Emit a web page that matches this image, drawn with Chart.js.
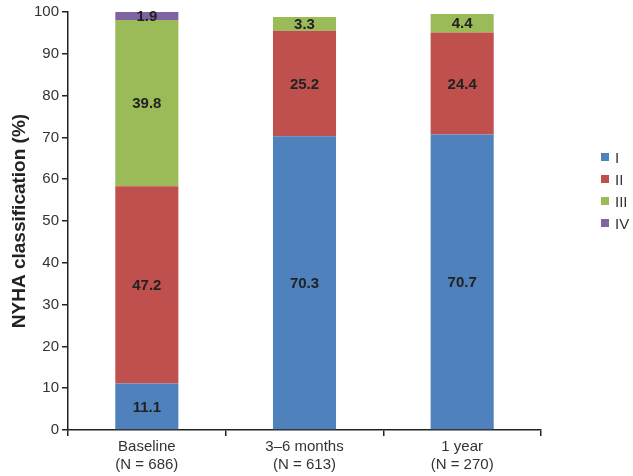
<!DOCTYPE html>
<html>
<head>
<meta charset="utf-8">
<script src="https://cdn.jsdelivr.net/npm/chart.js@4/dist/chart.umd.min.js"></script>
<style>
  html, body { margin: 0; padding: 0; background: #fff; }
  #wrap { position: relative; width: 633px; height: 476px; }
  #legend { position: absolute; left: 601px; top: 146px; font-family: "Liberation Sans", Arial, sans-serif; font-size: 15px; color: #333; }
  #legend .item { display: flex; align-items: center; height: 22px; }
  #legend .box { width: 8px; height: 8px; margin-right: 6px; }
</style>
</head>
<body>
<div id="wrap">
  <canvas id="c" width="633" height="476"></canvas>
  <div id="legend"></div>
</div>
<script>
const categories = [["Baseline", "(N = 686)"], ["3\u20136 months", "(N = 613)"], ["1 year", "(N = 270)"]];
const seriesNames = ["I", "II", "III", "IV"];
const classI = [11.1, 70.3, 70.7];
const classII = [47.2, 25.2, 24.4];
const classIII = [39.8, 3.3, 4.4];
const classIV = [1.9, null, null];
const yTicks = [0, 10, 20, 30, 40, 50, 60, 70, 80, 90, 100];
const colors = ["#4F81BD", "#C0504D", "#9BBB59", "#8064A2"];

const seriesValues = [classI, classII, classIII, classIV];

const valueLabels = {
  id: 'valueLabels',
  afterDatasetsDraw(chart) {
    const ctx = chart.ctx;
    ctx.save();
    ctx.font = 'bold 15px "Liberation Sans", Arial, sans-serif';
    ctx.fillStyle = '#222';
    ctx.textAlign = 'center';
    ctx.textBaseline = 'middle';
    chart.data.datasets.forEach((ds, i) => {
      const meta = chart.getDatasetMeta(i);
      meta.data.forEach((bar, j) => {
        const v = ds.data[j];
        if (v === null || v === undefined) return;
        const y = (bar.y + bar.base) / 2;
        ctx.fillText(v.toFixed(1), bar.x, y + 1);
      });
    });
    ctx.restore();
  }
};

const chart = new Chart(document.getElementById('c'), {
  type: 'bar',
  data: {
    labels: categories,
    datasets: seriesNames.map((n, i) => ({
      label: n,
      data: seriesValues[i],
      backgroundColor: colors[i],
      borderWidth: 0,
      categoryPercentage: 1.0,
      barPercentage: 0.4
    }))
  },
  options: {
    responsive: false,
    animation: false,
    devicePixelRatio: 1,
    layout: { padding: { left: 0, right: 92, top: 10, bottom: 0 } },
    plugins: { legend: { display: false }, tooltip: { enabled: false } },
    scales: {
      x: {
        stacked: true,
        grid: { display: true, drawOnChartArea: false, drawTicks: true, tickLength: 6, color: '#222', lineWidth: 1.5, offset: true },
        border: { display: true, color: '#222', width: 1.5 },
        ticks: { color: '#333', font: { family: '"Liberation Sans", Arial, sans-serif', size: 15 }, padding: 2, maxRotation: 0 },
        afterFit(scale) { scale.height = 46; }
      },
      y: {
        stacked: true,
        min: 0, max: 100,
        afterBuildTicks(scale) { scale.ticks = yTicks.map(v => ({ value: v })); },
        grid: { display: true, drawOnChartArea: false, drawTicks: true, tickLength: 6, color: '#222', lineWidth: 1.5 },
        border: { display: true, color: '#222', width: 1.5 },
        ticks: { color: '#333', font: { family: '"Liberation Sans", Arial, sans-serif', size: 15 }, padding: 3 },
        title: { display: true, text: 'NYHA classification (%)', color: '#222', font: { family: '"Liberation Sans", Arial, sans-serif', size: 19, weight: 'bold' }, padding: { top: 8, bottom: 0 } },
        afterFit(scale) { scale.width = 68; }
      }
    }
  },
  plugins: [valueLabels]
});

const legend = document.getElementById('legend');
chart.data.datasets.forEach(ds => {
  const item = document.createElement('div');
  item.className = 'item';
  const box = document.createElement('span');
  box.className = 'box';
  box.style.background = ds.backgroundColor;
  const t = document.createElement('span');
  t.textContent = ds.label;
  item.appendChild(box);
  item.appendChild(t);
  legend.appendChild(item);
});
</script>
</body>
</html>
